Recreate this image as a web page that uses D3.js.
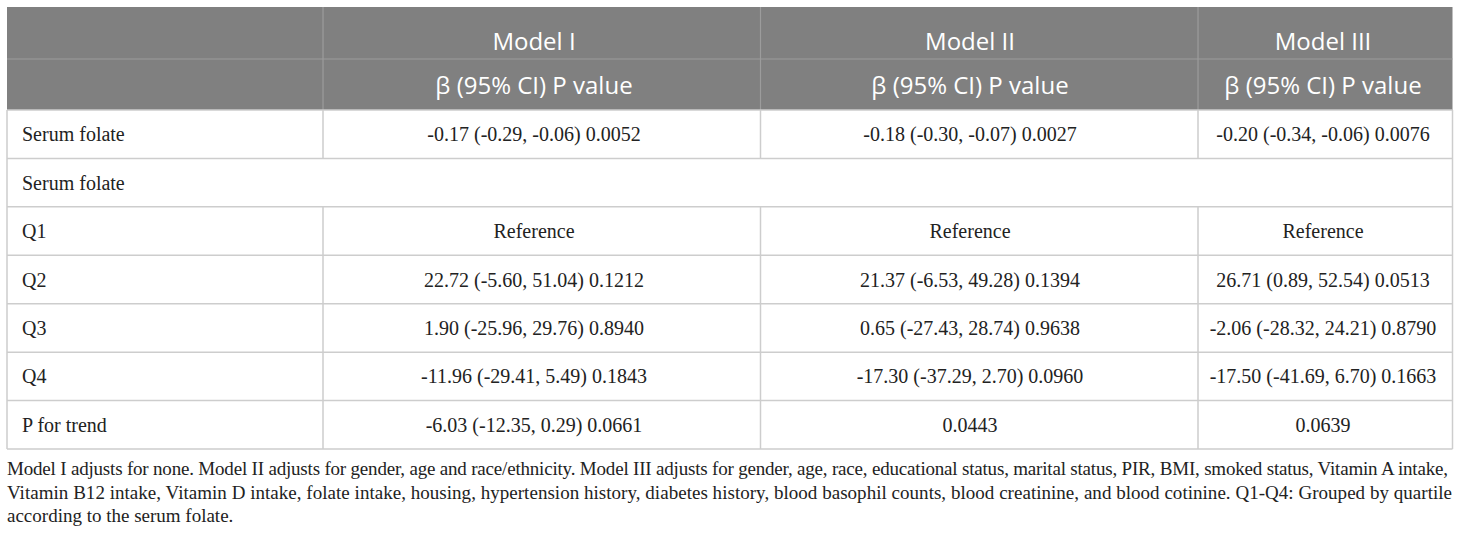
<!DOCTYPE html>
<html>
<head>
<meta charset="utf-8">
<script src="https://cdn.jsdelivr.net/npm/d3@7"></script>
<style>
  html, body { margin: 0; padding: 0; background: #fff; }
  svg { display: block; }
</style>
</head>
<body>
<svg width="1460" height="536"></svg>
<script>
  // table content
  const models = ["Model I", "Model II", "Model III"];
  const subHeader = "β (95% CI) P value";
  const rowLabels = ["Serum folate", "Serum folate", "Q1", "Q2", "Q3", "Q4", "P for trend"];
  const modelI = ["-0.17 (-0.29, -0.06) 0.0052", null, "Reference", "22.72 (-5.60, 51.04) 0.1212",
                  "1.90 (-25.96, 29.76) 0.8940", "-11.96 (-29.41, 5.49) 0.1843", "-6.03 (-12.35, 0.29) 0.0661"];
  const modelII = ["-0.18 (-0.30, -0.07) 0.0027", null, "Reference", "21.37 (-6.53, 49.28) 0.1394",
                   "0.65 (-27.43, 28.74) 0.9638", "-17.30 (-37.29, 2.70) 0.0960", "0.0443"];
  const modelIII = ["-0.20 (-0.34, -0.06) 0.0076", null, "Reference", "26.71 (0.89, 52.54) 0.0513",
                    "-2.06 (-28.32, 24.21) 0.8790", "-17.50 (-41.69, 6.70) 0.1663", "0.0639"];
  const footnote = [
    "Model I adjusts for none. Model II adjusts for gender, age and race/ethnicity. Model III adjusts for gender, age, race, educational status, marital status, PIR, BMI, smoked status, Vitamin A intake,",
    "Vitamin B12 intake, Vitamin D intake, folate intake, housing, hypertension history, diabetes history, blood basophil counts, blood creatinine, and blood cotinine. Q1-Q4: Grouped by quartile",
    "according to the serum folate."
  ];

  const svg = d3.select("svg");
  const left = 7, right = 1452.5;
  const headTop = 7, headMid = 59, headBot = 110, tableBot = 449;
  const lineColor = "#cdcdcd";

  // column edges: label column + one per model
  const colKeys = ["label"].concat(models);
  const colStart = d3.scaleOrdinal().domain(colKeys).range([left, 323, 760.5, 1198]);
  // text centre of each model column (cells are padded a little on the right)
  const colMid = d3.scaleOrdinal().domain(models).range([534, 970, 1323]);

  const y = d3.scaleBand()
    .domain(d3.range(rowLabels.length))
    .range([headBot, tableBot]);

  const cols = [modelI, modelII, modelIII];
  const rows = rowLabels.map((lab, i) => ({
    label: lab,
    values: cols.map(c => c[i]),
    span: cols.every(c => c[i] === null)
  }));

  // header background
  svg.append("rect")
    .attr("x", left).attr("y", headTop)
    .attr("width", right - left).attr("height", headBot - headTop)
    .attr("fill", "#808080");

  // header grid lines
  svg.append("line")
    .attr("x1", left).attr("x2", right)
    .attr("y1", headMid).attr("y2", headMid)
    .attr("stroke", "#9c9c9c").attr("stroke-width", 1.2);
  svg.selectAll(".hdiv")
    .data(models)
    .enter().append("line")
    .attr("class", "hdiv")
    .attr("x1", d => colStart(d)).attr("x2", d => colStart(d))
    .attr("y1", headTop).attr("y2", headBot)
    .attr("stroke", "#9c9c9c").attr("stroke-width", 1.2);

  // header text
  const head = svg.append("g")
    .attr("font-family", "'Open Sans', sans-serif")
    .attr("font-size", 24)
    .attr("fill", "#fff")
    .attr("text-anchor", "middle");
  head.selectAll(".mname")
    .data(models)
    .enter().append("text")
    .attr("class", "mname")
    .attr("x", d => colMid(d))
    .attr("y", 50)
    .text(d => d);
  head.selectAll(".msub")
    .data(models)
    .enter().append("text")
    .attr("class", "msub")
    .attr("x", d => colMid(d))
    .attr("y", 94)
    .text(subHeader);

  // body row lines
  const body = svg.append("g");
  body.selectAll(".hline")
    .data(d3.range(rowLabels.length + 1))
    .enter().append("line")
    .attr("class", "hline")
    .attr("x1", left).attr("x2", right)
    .attr("y1", i => i < rowLabels.length ? y(i) : tableBot)
    .attr("y2", i => i < rowLabels.length ? y(i) : tableBot)
    .attr("stroke", lineColor).attr("stroke-width", 1.5);

  // outer left/right borders of the body
  body.selectAll(".vborder")
    .data([left, right])
    .enter().append("line")
    .attr("class", "vborder")
    .attr("x1", d => d).attr("x2", d => d)
    .attr("y1", headBot).attr("y2", tableBot)
    .attr("stroke", lineColor).attr("stroke-width", 1.5);

  // column dividers, skipped for spanning rows
  rows.forEach((r, i) => {
    if (r.span) return;
    body.selectAll(null)
      .data(models)
      .enter().append("line")
      .attr("x1", d => colStart(d)).attr("x2", d => colStart(d))
      .attr("y1", y(i)).attr("y2", y(i) + y.bandwidth())
      .attr("stroke", lineColor).attr("stroke-width", 1.5);
  });

  // body text
  const txt = svg.append("g")
    .attr("font-family", "'Liberation Serif', 'Times New Roman', serif")
    .attr("font-size", 20)
    .attr("fill", "#222");
  txt.selectAll(".rlab")
    .data(rows)
    .enter().append("text")
    .attr("class", "rlab")
    .attr("x", 22)
    .attr("y", (d, i) => y(i) + y.bandwidth() / 2 + 7)
    .text(d => d.label);

  rows.forEach((r, i) => {
    txt.selectAll(null)
      .data(r.values.map((v, j) => ({ v, m: models[j] })).filter(d => d.v !== null))
      .enter().append("text")
      .attr("x", d => colMid(d.m))
      .attr("y", y(i) + y.bandwidth() / 2 + 7)
      .attr("text-anchor", "middle")
      .text(d => d.v);
  });

  // footnote, first two lines justified to the table width
  const fitWidth = [1441, 1445, null];
  svg.append("g")
    .attr("font-family", "'Liberation Serif', 'Times New Roman', serif")
    .attr("font-size", 19)
    .attr("fill", "#222")
    .selectAll("text")
    .data(footnote)
    .enter().append("text")
    .attr("x", left)
    .attr("y", (d, i) => 475 + i * 23.5)
    .each(function(d, i) {
      if (fitWidth[i]) {
        d3.select(this).attr("textLength", fitWidth[i]).attr("lengthAdjust", "spacing");
      }
    })
    .text(d => d);
</script>
</body>
</html>
